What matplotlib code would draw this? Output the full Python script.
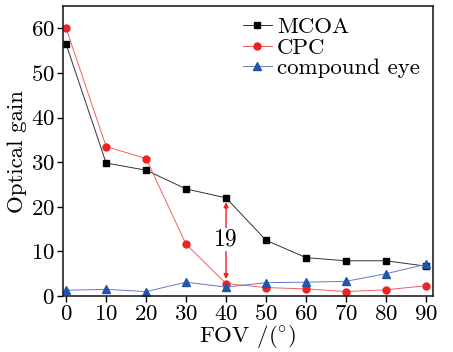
import numpy as np
import matplotlib.pyplot as plt

plt.rcParams['font.family'] = ['cmr10', 'DejaVu Serif']
plt.rcParams['axes.formatter.use_mathtext'] = True
plt.rcParams['mathtext.fontset'] = 'cm'

fov = [0, 10, 20, 30, 40, 50, 60, 70, 80, 90]
mcoa = [56.4, 29.8, 28.2, 24.0, 22.0, 12.5, 8.6, 7.9, 7.9, 6.7]
cpc = [60.0, 33.5, 30.8, 11.6, 2.8, 1.9, 1.6, 1.0, 1.4, 2.3]
compound = [1.3, 1.5, 1.0, 3.1, 2.0, 3.0, 3.1, 3.3, 5.0, 7.1]

fig = plt.figure(figsize=(4.53, 3.52), dpi=100)
ax = fig.add_axes([0.139, 0.159, 0.817, 0.824])

ax.plot(fov, mcoa, color='#333333', lw=0.7, marker='s', ms=4.2,
        mfc='black', mec='black', label='MCOA')
ax.plot(fov, cpc, color='#f06060', lw=0.7, marker='o', ms=5,
        mfc='#ee2222', mec='#ee2222', label='CPC')
ax.plot(fov, compound, color='#6677cc', lw=0.7, marker='^', ms=5.5,
        mfc='#2255aa', mec='#2255aa', label='compound eye')

# difference arrow at 40 deg
ax.annotate('', xy=(40, 3.8), xytext=(40, 21.0),
            arrowprops=dict(arrowstyle='<|-|>', color='#ee2222', lw=1.0,
                            mutation_scale=7, shrinkA=0, shrinkB=0))
ax.text(40, 12.6, '19', ha='center', va='center', fontsize=17,
        bbox=dict(facecolor='white', edgecolor='none', pad=0.3))

ax.set_xlim(-0.8, 91.8)
ax.set_ylim(0, 65)
ax.set_xticks(fov)
ax.set_yticks([0, 10, 20, 30, 40, 50, 60])
ax.tick_params(direction='out', length=4, width=1, labelsize=16.5, pad=2)
for s in ax.spines.values():
    s.set_linewidth(1.2)
    s.set_color('#222222')

ax.set_xlabel('FOV /($^{\\circ}$)', fontsize=16.5, labelpad=-1)
ax.set_ylabel('Optical gain', fontsize=16.5, labelpad=3)

ax.legend(loc='upper right', frameon=False, fontsize=16.5, handlelength=1.3,
          handletextpad=0.2, labelspacing=0.0, borderaxespad=0.1,
          bbox_to_anchor=(0.995, 1.0))

fig.savefig('out.png', dpi=100)
